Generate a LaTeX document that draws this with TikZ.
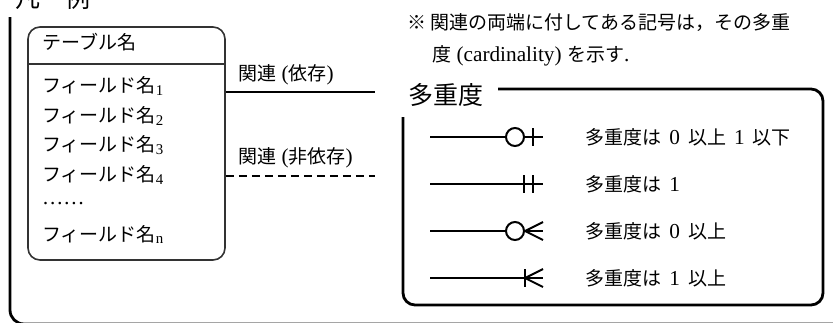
\documentclass[tikz,border=0pt]{standalone}
\usepackage{fontspec}
\setmainfont{Liberation Serif}[Scale=1.12]
\newfontfamily\jp{Noto Sans CJK JP}
\newcommand\gap{\hspace{0.38em}}
\begin{document}
\begin{tikzpicture}[x=1pt,y=-1pt,
  txt/.style={anchor=base west, inner sep=0pt, font=\fontsize{19}{19}\selectfont},
  big/.style={anchor=base west, inner sep=0pt, font=\fontsize{25}{25}\selectfont},
  frame/.style={line width=2.8pt, rounded corners=14pt},
  rel/.style={line width=2.2pt},
  sym/.style={line width=2pt},
  ring/.style={circle, draw, fill=white, line width=2pt, minimum size=18pt, inner sep=0pt}]
\useasboundingbox (0,0) rectangle (833,322);
% outer frame and title
\node[big] (title) at (15,7) {\jp 凡　例};
\draw[frame] (10,17) -- (10,324) -- (848,324) -- (848,250);
% table
\node[draw, rounded corners=12pt, line width=1.6pt, draw=black!80, minimum width=197pt, minimum height=233pt, inner sep=0pt] (tbl) at (126.5,143.5) {};
\draw[line width=1.6pt, black!80] (tbl.west |- 0,64) -- (tbl.east |- 0,64);
\node[txt] (tname) at (42,49) {\jp テーブル名};
\node[txt] (f1) at (42,92) {{\jp フィールド名}\textsubscript{1}};
\node[txt] (f2) at (42,122) {{\jp フィールド名}\textsubscript{2}};
\node[txt] (f3) at (42,151) {{\jp フィールド名}\textsubscript{3}};
\node[txt] (f4) at (42,181) {{\jp フィールド名}\textsubscript{4}};
\node[txt] (fd) at (42,204) {……};
\node[txt] (fn) at (42,241) {{\jp フィールド名}\textsubscript{n}};
% relations
\coordinate (r1) at (375,92);
\coordinate (r2) at (375,176);
\draw[rel] (tbl.east |- r1) -- (r1);
\draw[rel, dash pattern=on 8pt off 5pt] (tbl.east |- r2) -- (r2);
\node[txt] (l1) at (238,80) {{\jp 関連} ({\jp 依存})};
\node[txt] (l2) at (238,163) {{\jp 関連} ({\jp 非依存})};
% note
\node[txt] (n1) at (407,29) {\jp ※ 関連の両端に付してある記号は，その多重};
\node[txt] (n2) at (432,61) {{\jp 度} (cardinality) {\jp を示す}.};
% legend box
\node[big] (lt) at (408,104) {\jp 多重度};
\draw[frame, rounded corners=12pt] (498,89) -- (823,89) -- (823,305) -- (403,305) -- (403,117);
% symbols
\coordinate (s1) at (430,137); \coordinate (e1) at (543,137);
\coordinate (s2) at (430,184); \coordinate (e2) at (543,184);
\coordinate (s3) at (430,231); \coordinate (e3) at (543,231);
\coordinate (s4) at (430,278); \coordinate (e4) at (543,278);
\draw[sym] (s1) -- (e1);
\node[ring] (c1) at (515,137) {};
\draw[sym] (533,128) -- (533,146);
\draw[sym] (s2) -- (e2);
\draw[sym] (524,175) -- (524,193);
\draw[sym] (533,175) -- (533,193);
\draw[sym] (s3) -- (e3);
\node[ring] (c3) at (515,231) {};
\draw[sym] (e3 |- 0,222) -- (525,231) -- (e3 |- 0,240);
\draw[sym] (s4) -- (e4);
\draw[sym] (525,269) -- (525,287);
\draw[sym] (e4 |- 0,269) -- (525,278) -- (e4 |- 0,287);
% legend labels
\node[txt] (m1) at (585,144) {{\jp 多重度は}\gap 0\gap{\jp 以上}\gap 1\gap{\jp 以下}};
\node[txt] (m2) at (585,191) {{\jp 多重度は}\gap 1};
\node[txt] (m3) at (585,238) {{\jp 多重度は}\gap 0\gap{\jp 以上}};
\node[txt] (m4) at (585,285) {{\jp 多重度は}\gap 1\gap{\jp 以上}};
\end{tikzpicture}
\end{document}
